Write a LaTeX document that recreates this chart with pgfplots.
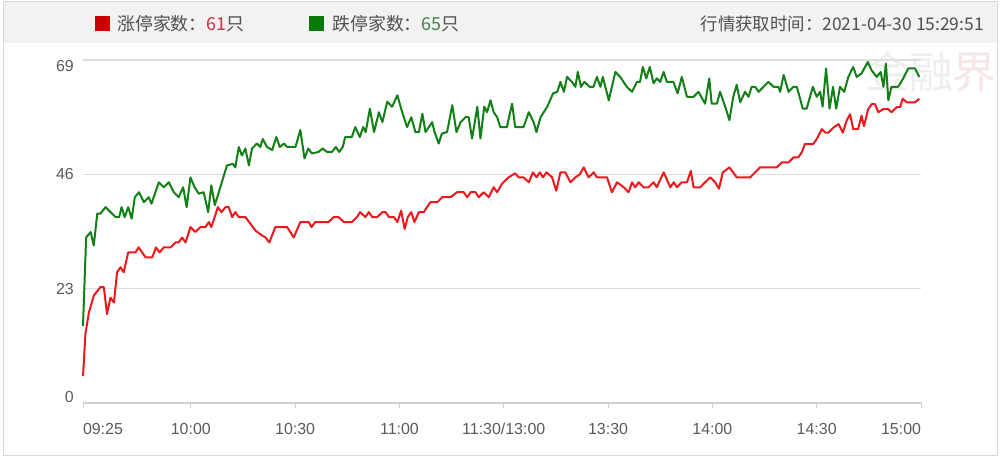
\documentclass[border=0pt]{standalone}
\usepackage{fontspec}
\setmainfont{Liberation Sans}
\newfontfamily\cjk{Noto Sans CJK SC}
\usepackage{pgfplots}
\pgfplotsset{compat=1.18}

\definecolor{headbg}{RGB}{242,242,242}
\definecolor{framegrey}{RGB}{216,216,216}
\definecolor{gridgrey}{RGB}{222,222,222}
\definecolor{axisgrey}{RGB}{210,210,210}
\definecolor{labelgrey}{RGB}{90,90,90}
\definecolor{txtgrey}{RGB}{80,80,80}
\definecolor{upred}{RGB}{236,24,28}
\definecolor{downgreen}{RGB}{18,128,22}
\definecolor{legred}{RGB}{204,0,0}
\definecolor{leggreen}{RGB}{8,122,8}
\definecolor{numred}{RGB}{200,50,60}
\definecolor{numgreen}{RGB}{70,130,70}
\definecolor{wmgrey}{RGB}{238,238,238}
\definecolor{wmpink}{RGB}{247,230,230}

\begin{document}
\begin{tikzpicture}
% background, header band and frame
\fill[white] (0,0) rectangle (1000bp,-457bp);
\fill[headbg] (3bp,-1bp) rectangle (997bp,-43bp);
\draw[framegrey, line width=1bp] (3bp,-1bp) rectangle (997bp,-455bp);

% watermark
\node[anchor=center, inner sep=0pt] at (931bp,-72bp)
  {\cjk\fontsize{44}{44}\selectfont\textcolor{wmgrey}{金融}\textcolor{wmpink}{界}};

% header legend
\fill[legred] (95bp,-16bp) rectangle (110bp,-31bp);
\node[anchor=west, inner sep=0pt] at (117bp,-23.5bp)
  {\cjk\fontsize{18}{20}\selectfont\color{txtgrey}涨停家数：\textcolor{numred}{61}只};
\fill[leggreen] (309bp,-16bp) rectangle (324bp,-31bp);
\node[anchor=west, inner sep=0pt] at (332bp,-23.5bp)
  {\cjk\fontsize{18}{20}\selectfont\color{txtgrey}跌停家数：\textcolor{numgreen}{65}只};
\node[anchor=east, inner sep=0pt] at (984bp,-23.5bp)
  {\cjk\fontsize{17.5}{20}\selectfont\color{txtgrey}行情获取时间：2021-04-30 15:29:51};

\begin{axis}[
  at={(83bp,-403bp)}, anchor=south west,
  width=838bp, height=343bp, scale only axis,
  xmin=-1, xmax=240, ymin=0, ymax=69,
  clip=false,
  axis x line*=bottom, axis y line*=left,
  x axis line style={draw=axisgrey, line width=1.2bp},
  y axis line style={draw=none},
  xtick={-1,30,60,90,120,150,180,210,240},
  xticklabels={\makebox[0pt][l]{09:25},10:00,10:30,11:00,11:30/13:00,13:30,14:00,14:30,\makebox[0pt][r]{15:00}},
  ytick={0,23,46,69},
  yticklabels={\raisebox{6bp}[\height][\depth]{0},23,46,\raisebox{-6bp}[\height][\depth]{69}},
  tick align=outside, major tick length=5bp,
  xtick style={draw=axisgrey, line width=1bp},
  ytick style={draw=none},
  ymajorgrids, grid style={draw=gridgrey, line width=1.2bp},
  ticklabel style={font=\fontsize{16}{18}\selectfont, text=labelgrey},
  xticklabel style={inner sep=0pt, yshift=-15bp},
  yticklabel style={inner sep=0pt, xshift=-4bp},
  /pgf/number format/assume math mode=true,
]
% 涨停家数
\addplot[upred, line width=2bp, line join=round] coordinates {
(-1,5.4) (-0.3,13.9) (0.7,18.2) (2.1,21.6) (4.0,23.3) (5.0,23.3) (5.9,17.9) (6.9,21.2)
(7.9,20.2) (8.8,26.3) (9.8,27.3) (10.7,26.3) (12,30.3) (14.1,30.3) (15,31.3) (17,29.3)
(18.9,29.3) (20,31.3) (21,30.3) (22.2,31.3) (24.2,31.3) (25.6,32.3) (26.5,32.3) (27.5,33.3)
(28.5,32.3) (29.9,35.4) (31.3,34.4) (32.8,35.4) (34.2,35.4) (35.2,36.4) (35.9,35.4) (37.8,39.4)
(38.8,38.4) (40,39.4) (40.9,39.4) (41.9,37.4) (42.8,38.4) (43.8,37.4) (45.7,37.4) (48.6,34.7)
(50.5,33.7) (51.5,33.3) (52.6,32.3) (54.3,35.4) (57.7,35.4) (59.6,33.3) (61.5,36.4) (63.9,36.4)
(64.7,35.4) (65.8,36.4) (69.6,36.4) (71.1,37.4) (72.5,37.4) (74,36.4) (76.3,36.4) (77.8,37.4)
(78.7,38.4) (80.2,37.4) (81.2,38.4) (82.2,37.4) (83.6,37.4) (85.1,38.4) (86,38.4) (87,37.4)
(88.4,37.4) (89.4,36.4) (90.5,38.7) (91.5,35) (92.4,37.4) (93.4,38.4) (94.3,36.4) (95.6,38.4)
(97,38.4) (98.9,40.4) (100.9,40.4) (102.3,41.4) (104.7,41.4) (106.6,42.4) (108.5,42.4) (109.5,41.4)
(110.5,42.4) (111.9,42.4) (112.8,41.4) (114.2,42.4) (115.7,41.4) (117.1,43.4) (118.1,42.4) (119.5,44.1)
(121.4,45.4) (123.3,46.2) (124.3,45.4) (125.7,45.4) (127.2,44.4) (128.4,46.4) (129.4,45.4) (130.4,46.4)
(131.3,45.4) (132.3,46.4) (133.9,45.4) (135.1,42.7) (136.3,46.4) (137.7,46.4) (139.2,44.4) (140.6,45.4)
(141.9,46) (143,47.4) (144.4,45.4) (145.9,46.4) (146.8,45.4) (149.7,45.4) (151.1,42.4) (152.6,44.4)
(154.5,43.4) (155.9,42.4) (156.9,44.4) (157.8,43.4) (158.8,44.4) (160.2,43.4) (161.6,43.4) (163.1,44.4)
(164,43.4) (166,46.4) (167.9,43.4) (168.9,44.4) (169.8,43.4) (171.2,44.4) (172.7,44.4) (173.8,46.7)
(174.6,43.4) (176.5,43.4) (177.9,44.4) (179.4,45.4) (180.8,44.4) (181.9,43.1) (183,46.4) (184.9,47.4)
(187,45.4) (190.9,45.4) (192.3,46.4) (193.7,47.4) (198.5,47.4) (200,48.4) (201.9,48.4) (203.3,49.4)
(204.7,49.4) (205.7,50.4) (206.6,52.1) (209,52.1) (210,53.1) (211.5,55.1) (212.5,54.4) (213.4,54.4)
(214.8,55.4) (216.3,56.1) (217.5,54.4) (218.6,56.8) (219.6,58.1) (220.5,55.1) (221.9,55.1) (222.9,57.8)
(223.6,55.7) (224.8,59.1) (225.8,60.1) (226.8,60.1) (227.7,58.5) (229.1,59.1) (230.6,59.1) (231.5,58.5)
(233,59.5) (234,59.5) (234.7,61.2) (235.9,60.5) (238.3,60.5) (239.5,61.2)
};
% 跌停家数
\addplot[downgreen, line width=2bp, line join=round] coordinates {
(-1,15.5) (-0.1,33.3) (1.2,34.4) (2.1,31.7) (3.1,38.1) (4,38.1) (5.5,39.4) (6.9,38.4)
(8.4,37.4) (9.4,37.4) (10.1,39.4) (11,37.4) (12,39.4) (13,37.1) (13.9,41.4) (15.1,42.4)
(16.5,40.4) (17.9,41.4) (18.7,40.1) (20.8,44.4) (22.2,43.4) (23.7,44.4) (25.1,42.4) (26.5,41.4)
(27.8,43.4) (28.8,39.4) (29.9,45.4) (31.1,43.4) (32.3,42.1) (33.7,42.4) (35,38.4) (35.9,43.8)
(36.9,39.8) (38.5,43.4) (40.4,47.8) (42.1,48.1) (42.8,47.4) (43.8,51.5) (44.7,49.8) (45.7,51.2)
(46.7,47.8) (47.6,51.2) (49,52.2) (50,51.5) (50.7,53.1) (51.9,51.5) (53.4,50.9) (54.6,53.5)
(55.6,51.5) (56.8,52.2) (57.7,51.5) (60.1,51.5) (61.5,54.9) (62.7,49.2) (63.8,51.2) (64.8,50.2)
(66.7,50.5) (67.9,51.2) (69.2,50.5) (70.6,50.5) (71.7,51.5) (72.7,50.5) (73.7,51.5) (74.4,53.5)
(76.3,53.5) (77.3,55.5) (78.6,53.5) (79.6,55.5) (80.3,54.5) (81.5,59.2) (82.7,54.5) (84.1,58.5)
(85.1,56.5) (86.5,60.6) (87.9,59.6) (89.4,61.9) (90.8,58.5) (92.2,55.5) (93.4,57.5) (94.6,54.5)
(95.6,54.5) (96.6,58.2) (97.5,54.5) (99.4,56.5) (100.1,54.5) (101.3,52.2) (102.2,54.2) (103.7,54.5)
(105.2,59.9) (106.4,54.5) (107.6,56.5) (109,57.5) (109.9,57.5) (110.9,53.2) (112.4,59.6) (113.3,53.2)
(114.4,59.6) (115.2,58.5) (116.2,60.9) (117.1,58.5) (118.1,57.5) (119,55.5) (120.9,55.5) (122.4,60.2)
(123.3,55.5) (125.7,55.5) (127.2,58.5) (128.6,56.5) (129.4,54.5) (130.6,57.5) (132.5,59.6) (134.2,62.3)
(135.4,62.6) (136.3,64.6) (137.3,62.6) (138.2,65.6) (139.6,64.6) (140.6,63.6) (141.3,66.6) (142.2,63.6)
(143.2,64.6) (144.7,63.6) (145.8,63.6) (146.8,65.6) (147.8,63.6) (148.5,65.6) (150.2,60.9) (152.1,66.6)
(153.5,65.6) (155.4,63.6) (156.9,62.6) (158.3,64.6) (159.2,64.6) (160,67.6) (161,65.3) (162,67.6)
(163.1,64.3) (164,65.3) (165,64.6) (166,66.6) (166.9,64.6) (168.8,64.6) (170,62.3) (171.2,65.6)
(172.7,61.6) (174.6,61.6) (176,62.6) (177.9,60.2) (179.1,65.3) (179.8,60.2) (181.3,60.2) (182.2,62.6)
(183.7,59.6) (184.9,56.9) (186,61.6) (187,64) (188,60.5) (189.4,62.6) (190.4,61.6) (191.3,63.6)
(192.3,63.6) (193.3,62.6) (194.7,63.6) (196.1,64.6) (197.6,63.6) (199,63.6) (199.5,62.6) (200.5,66)
(201.9,62.6) (203.3,63.6) (204.3,63.6) (206,59.2) (207.1,59.2) (208.9,63.6) (210,61.6) (211,62.6)
(211.7,59.6) (212.7,67.3) (213.7,59.2) (214.7,63.6) (215.6,59.2) (216.7,63.6) (217.9,62.6) (219.1,65.6)
(220.5,67.6) (221.5,65.6) (222.9,66.3) (224.7,68.6) (225.8,66.9) (227.3,65.6) (228.4,66.6) (229.2,63.6)
(229.9,68.3) (230.6,60.9) (231.5,63.6) (233.4,63.6) (234.9,65.3) (236.3,67.3) (238.3,67.3) (239.5,65.6)
};
\end{axis}
\end{tikzpicture}
\end{document}
